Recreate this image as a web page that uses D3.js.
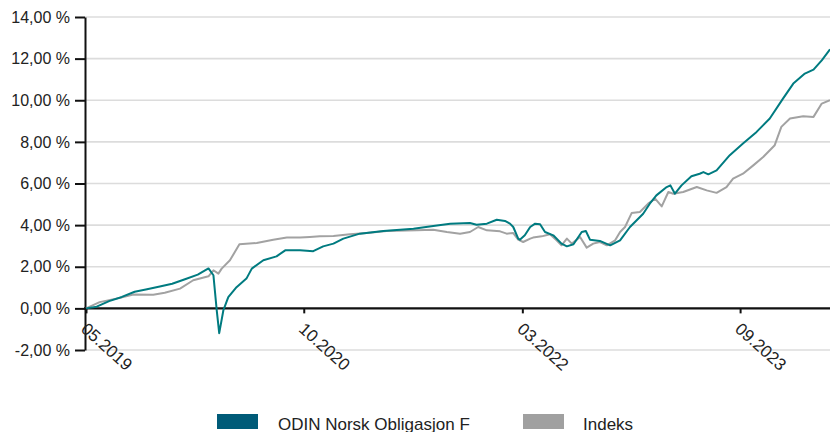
<!DOCTYPE html>
<html><head><meta charset="utf-8">
<script src="https://cdn.jsdelivr.net/npm/d3@7"></script>
<style>
html,body{margin:0;padding:0;background:#fff;}
svg{display:block;font-family:"Liberation Sans",Arial,sans-serif;}
</style></head>
<body><svg id="c" width="830" height="432"></svg>
<script>
// ---- data ----
const seriesNames = ["ODIN Norsk Obligasjon F", "Indeks"];
const fundDates = ["2019-05-06","2019-06-01","2019-07-01","2019-08-01","2019-09-01","2019-10-01","2019-11-01","2019-12-01","2020-01-01","2020-02-01","2020-02-27","2020-03-10","2020-03-18","2020-03-24","2020-04-03","2020-04-15","2020-05-05","2020-05-29","2020-06-11","2020-07-09","2020-08-10","2020-08-31","2020-10-06","2020-11-07","2020-12-01","2020-12-26","2021-01-19","2021-02-28","2021-04-26","2021-07-08","2021-08-25","2021-10-05","2021-11-22","2021-12-08","2022-01-02","2022-01-26","2022-02-15","2022-02-27","2022-03-07","2022-03-19","2022-03-23","2022-04-04","2022-04-17","2022-04-29","2022-05-11","2022-05-23","2022-06-12","2022-07-02","2022-07-15","2022-07-31","2022-08-20","2022-08-30","2022-09-09","2022-10-03","2022-10-28","2022-11-21","2022-12-15","2023-01-16","2023-02-01","2023-02-17","2023-03-14","2023-03-23","2023-04-03","2023-04-19","2023-05-13","2023-06-02","2023-06-11","2023-06-23","2023-07-13","2023-08-14","2023-09-15","2023-10-18","2023-11-19","2023-12-21","2024-01-15","2024-02-12","2024-03-04","2024-03-24","2024-04-13"];
const fundValues = [0,0.08,0.35,0.55,0.8,0.92,1.05,1.18,1.4,1.62,1.92,1.59,-0.1,-1.19,-0.1,0.54,1.02,1.43,1.91,2.31,2.5,2.79,2.79,2.75,2.98,3.11,3.35,3.59,3.72,3.83,3.96,4.07,4.1,4.02,4.07,4.26,4.2,4.07,3.91,3.35,3.3,3.51,3.91,4.07,4.04,3.67,3.51,3.11,2.98,3.08,3.67,3.72,3.3,3.24,3.03,3.27,3.91,4.55,5.03,5.43,5.83,5.91,5.51,5.91,6.35,6.47,6.55,6.44,6.63,7.36,7.92,8.48,9.12,10.08,10.8,11.28,11.47,11.92,12.45];
const indexDates = ["2019-05-06","2019-06-08","2019-08-04","2019-08-29","2019-10-16","2019-11-13","2019-12-20","2020-01-21","2020-02-27","2020-03-10","2020-03-22","2020-03-30","2020-04-19","2020-05-12","2020-06-23","2020-08-02","2020-09-04","2020-10-06","2020-10-30","2020-11-23","2020-12-26","2021-02-04","2021-03-17","2021-05-04","2021-07-16","2021-08-25","2021-09-27","2021-10-29","2021-11-22","2021-12-12","2022-01-02","2022-02-03","2022-02-19","2022-03-07","2022-03-19","2022-03-31","2022-04-17","2022-04-24","2022-05-15","2022-06-04","2022-06-20","2022-07-02","2022-07-15","2022-07-27","2022-08-16","2022-09-01","2022-09-17","2022-10-03","2022-10-20","2022-11-09","2022-11-21","2022-12-03","2022-12-19","2023-01-08","2023-01-28","2023-02-14","2023-03-02","2023-03-18","2023-03-30","2023-04-23","2023-05-26","2023-06-19","2023-07-13","2023-08-06","2023-08-22","2023-09-15","2023-10-10","2023-11-03","2023-12-01","2023-12-17","2024-01-07","2024-02-08","2024-03-04","2024-03-24","2024-04-13"];
const indexValues = [0,0.3,0.54,0.67,0.66,0.75,0.95,1.35,1.54,1.83,1.67,1.91,2.31,3.08,3.14,3.3,3.4,3.4,3.43,3.46,3.48,3.56,3.62,3.72,3.75,3.78,3.67,3.59,3.67,3.91,3.75,3.7,3.59,3.62,3.3,3.19,3.35,3.4,3.46,3.56,3.27,3.03,3.35,3.11,3.43,2.92,3.11,3.19,3.03,3.27,3.67,3.91,4.58,4.63,5.03,5.27,4.9,5.59,5.51,5.59,5.83,5.67,5.55,5.83,6.23,6.47,6.87,7.27,7.84,8.72,9.12,9.23,9.2,9.84,10.0];
const yTicks = [-2,0,2,4,6,8,10,12,14];
const yTickLabels = ["-2,00 %","0,00 %","2,00 %","4,00 %","6,00 %","8,00 %","10,00 %","12,00 %","14,00 %"];
const xTickDates = ["2019-05-06","2020-10-15","2022-03-29","2023-09-08"];
const xTickLabels = ["05.2019","10.2020","03.2022","09.2023"];
const domainStart = "2019-05-06", domainEnd = "2024-04-13";

// ---- drawing ----
const parse = d3.timeParse("%Y-%m-%d");
const svg = d3.select("#c");
const mLeft = 85, mRight = 830, mTop = 17, mBottom = 350;
const x = d3.scaleTime().domain([parse(domainStart), parse(domainEnd)]).range([86, mRight]);
const y = d3.scaleLinear().domain([-2, 14]).range([mBottom, mTop]);

// grid
svg.append("g").selectAll("line").data(yTicks.filter(d => d !== 0)).join("line")
  .attr("x1", mLeft).attr("x2", mRight)
  .attr("y1", d => y(d)).attr("y2", d => y(d))
  .attr("stroke", "#dcdcdc").attr("stroke-width", 1.6);

// y axis
const yAxis = d3.axisLeft(y).tickValues(yTicks).tickFormat((d, i) => yTickLabels[i])
  .tickSize(10).tickPadding(5).tickSizeOuter(0);
const gy = svg.append("g").attr("transform", `translate(${mLeft},0)`).call(yAxis);
gy.select(".domain").attr("stroke", "#111").attr("stroke-width", 2);
gy.selectAll(".tick line").attr("stroke", "#111").attr("stroke-width", 2);
gy.selectAll(".tick text").attr("font-size", 16).attr("fill", "#222")
  .attr("font-family", "Liberation Sans, Arial, sans-serif");

// x axis (zero line)
const xAxis = d3.axisBottom(x).tickValues(xTickDates.map(parse)).tickFormat("").tickSize(5).tickSizeOuter(0);
const gx = svg.append("g").attr("transform", `translate(0,${y(0)})`).call(xAxis);
gx.select(".domain").remove();
gx.selectAll(".tick line").attr("stroke", "#111").attr("stroke-width", 2);
svg.append("line").attr("x1", mLeft - 1).attr("x2", mRight).attr("y1", y(0)).attr("y2", y(0))
  .attr("stroke", "#111").attr("stroke-width", 2.2);

svg.append("g").selectAll("text").data(xTickDates).join("text")
  .attr("transform", d => `translate(${x(parse(d)) - 6},${y(0) + 22}) rotate(42)`)
  .attr("font-size", 17).attr("fill", "#222")
  .text((d, i) => xTickLabels[i]);

// lines
const line = d3.line().x(d => x(d[0])).y(d => y(d[1])).curve(d3.curveLinear);
const idx = indexDates.map((d, i) => [parse(d), indexValues[i]]);
const fund = fundDates.map((d, i) => [parse(d), fundValues[i]]);
svg.append("path").datum(idx).attr("d", line).attr("fill", "none")
  .attr("stroke", "#a2a2a2").attr("stroke-width", 2).attr("stroke-linejoin", "round");
svg.append("path").datum(fund).attr("d", line).attr("fill", "none")
  .attr("stroke", "#007b80").attr("stroke-width", 2).attr("stroke-linejoin", "round");

// legend
const legend = [
  {name: seriesNames[0], color: "#005b78", sx: 217, tx: 278},
  {name: seriesNames[1], color: "#a0a0a0", sx: 523, tx: 583}
];
const lg = svg.append("g").selectAll("g").data(legend).join("g");
lg.append("rect").attr("x", d => d.sx).attr("y", 414).attr("width", 41).attr("height", 15).attr("fill", d => d.color);
lg.append("text").attr("x", d => d.tx).attr("y", 429.5).attr("font-size", 17).attr("fill", "#222").text(d => d.name);
</script></body></html>
